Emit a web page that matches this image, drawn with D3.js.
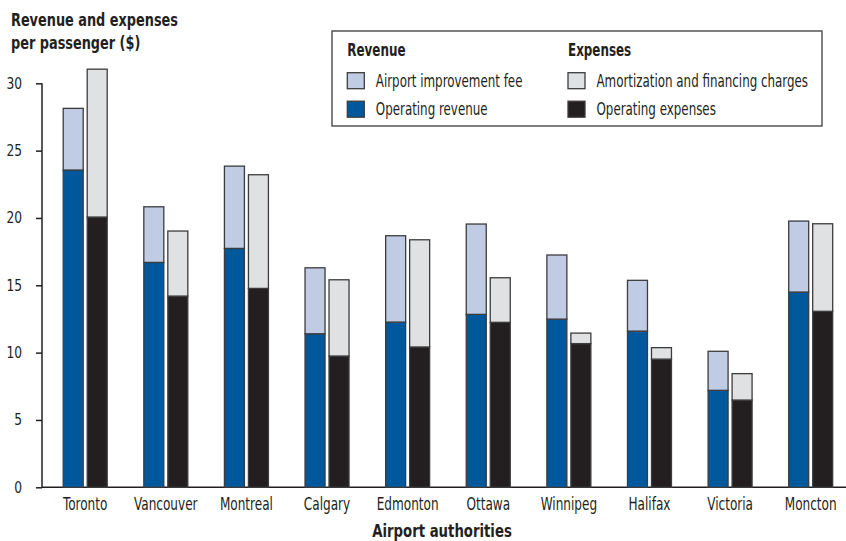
<!DOCTYPE html>
<html><head><meta charset="utf-8">
<script src="https://cdn.jsdelivr.net/npm/d3@7/dist/d3.min.js"></script>
<style>
body{margin:0;background:#fff;}
text{font-family:"DejaVu Sans Condensed","Liberation Sans Narrow",sans-serif;fill:#231f20;}
</style></head>
<body><svg id="c" width="846" height="541"></svg>
<script>
const categories = ["Toronto","Vancouver","Montreal","Calgary","Edmonton","Ottawa","Winnipeg","Halifax","Victoria","Moncton"];
const operatingRevenue = [23.56,16.70,17.74,11.40,12.27,12.84,12.49,11.60,7.20,14.50];
const airportFee = [4.58,4.13,6.11,4.90,6.41,6.71,4.76,3.77,2.90,5.27];
const operatingExpenses = [20.07,14.20,14.77,9.75,10.42,12.25,10.67,9.52,6.48,13.07];
const amortization = [10.98,4.83,8.44,5.66,7.96,3.31,0.78,0.85,1.96,6.50];
const yTicks = [0,5,10,15,20,25,30];

const colors = {fee:"#c0cce4", rev:"#00589c", amort:"#e0e1e3", exp:"#231f20"};

// condense a text element horizontally (around its anchor x) to mimic a narrow typeface
function condense(sel, s){
  sel.each(function(){
    const ax = +(this.getAttribute("x") || 0);
    d3.select(this).attr("transform", `translate(${ax},0) scale(${s},1) translate(${-ax},0)`);
  });
}

const svg = d3.select("#c");
const y = d3.scaleLinear().domain([0,30]).range([487.3, 83.3]);
const x = d3.scaleBand().domain(categories).range([44.9, 851]).padding(0);
const bw = 20;

// axes
const yAxis = d3.axisLeft(y).tickValues(yTicks).tickSize(6).tickPadding(14);
const gy = svg.append("g").attr("transform","translate(42,0)").call(yAxis);
gy.select(".domain").attr("stroke","#231f20").attr("stroke-width",1.5).attr("d","M0,83.3V487.3");
gy.selectAll(".tick line").attr("stroke","#231f20").attr("stroke-width",1.5);
gy.selectAll(".tick text").attr("font-size",16).attr("dy","0.3em").attr("fill","#231f20")
  .style("font-family",'"DejaVu Sans Condensed",sans-serif');
condense(gy.selectAll(".tick text"), 0.85);

const xAxis = d3.axisBottom(x).tickSize(0).tickPadding(11);
const gx = svg.append("g").attr("transform","translate(0,487.3)").call(xAxis);
gx.select(".domain").attr("stroke","#231f20").attr("stroke-width",1.5).attr("d","M42,0H846");
gx.selectAll(".tick text").attr("font-size",17).attr("dy","0.71em").attr("fill","#231f20")
  .style("font-family",'"DejaVu Sans Condensed",sans-serif');
condense(gx.selectAll(".tick text"), 0.79);

// bars
const g = svg.append("g");
categories.forEach((c,i)=>{
  const cx = x(c) + x.bandwidth()/2;
  const rl = cx - 22, el = cx + 2;
  const segs = [
    {x:rl, y0:0, y1:operatingRevenue[i], col:colors.rev},
    {x:rl, y0:operatingRevenue[i], y1:operatingRevenue[i]+airportFee[i], col:colors.fee},
    {x:el, y0:0, y1:operatingExpenses[i], col:colors.exp},
    {x:el, y0:operatingExpenses[i], y1:operatingExpenses[i]+amortization[i], col:colors.amort}
  ];
  segs.forEach(s=>{
    g.append("rect").attr("x",s.x).attr("y",y(s.y1)).attr("width",bw)
     .attr("height",y(s.y0)-y(s.y1)).attr("fill",s.col)
     .attr("stroke","#3c3c3e").attr("stroke-width",1.3);
  });
});

// title
const t1 = svg.append("text").attr("x",11).attr("y",26).attr("font-size",18).attr("font-weight","bold").text("Revenue and expenses");
const t2 = svg.append("text").attr("x",11).attr("y",49).attr("font-size",18).attr("font-weight","bold").text("per passenger ($)");
condense(t1, 0.795); condense(t2, 0.795);

const xt = svg.append("text").attr("x",442).attr("y",537).attr("text-anchor","middle")
  .attr("font-size",18).attr("font-weight","bold").text("Airport authorities");
condense(xt, 0.82);

// legend
const lg = svg.append("g");
lg.append("rect").attr("x",332).attr("y",31).attr("width",490).attr("height",95)
  .attr("fill","#fff").attr("stroke","#555").attr("stroke-width",1.5);
const legendGroups = [
  {title:"Revenue", x:347.3, items:[["Airport improvement fee",colors.fee],["Operating revenue",colors.rev]]},
  {title:"Expenses", x:568, items:[["Amortization and financing charges",colors.amort],["Operating expenses",colors.exp]]}
];
legendGroups.forEach(lgp=>{
  const ht = lg.append("text").attr("x",lgp.x).attr("y",56).attr("font-size",17).attr("font-weight","bold").text(lgp.title);
  condense(ht, 0.78);
  lgp.items.forEach((it,j)=>{
    const yy = 72.7 + j*28.5;
    lg.append("rect").attr("x",lgp.x).attr("y",yy).attr("width",17).attr("height",16)
      .attr("fill",it[1]).attr("stroke","#3c3c3e").attr("stroke-width",1.3);
    const lt = lg.append("text").attr("x",lgp.x+28.5).attr("y",yy+14).attr("font-size",17).text(it[0]);
    condense(lt, 0.777);
  });
});
</script></body></html>
